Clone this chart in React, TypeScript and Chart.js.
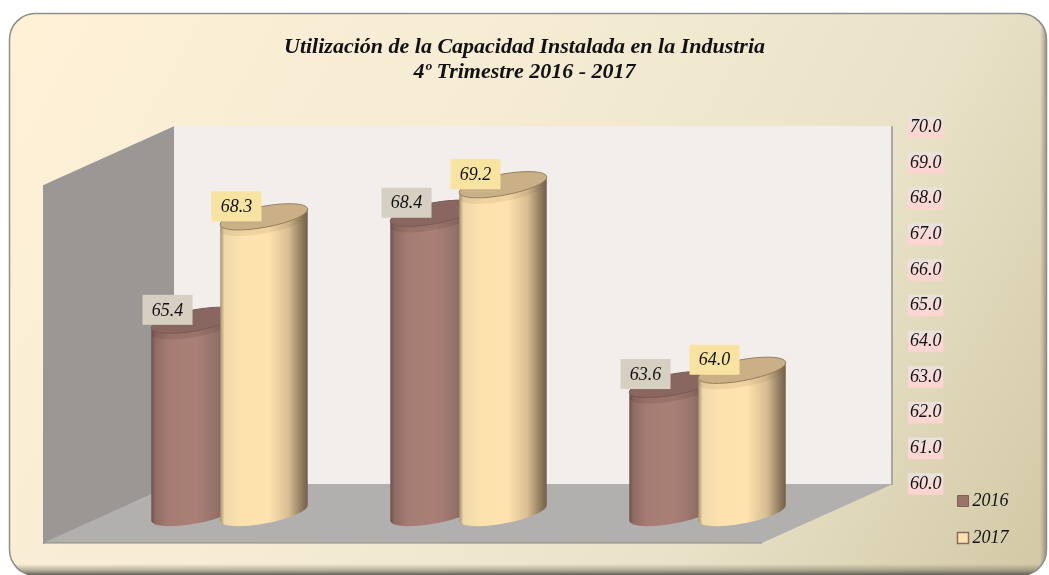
import React, { useEffect, useRef } from "react";
import { Chart, registerables } from "chart.js";

Chart.register(...registerables);

const categories = ["", "", ""];
const series2016 = [65.4, 68.4, 63.6];
const series2017 = [68.3, 69.2, 64.0];
const seriesNames = ["2016", "2017"];
const titleLines = [
  "Utilización de la Capacidad Instalada en la Industria",
  "4º Trimestre 2016 - 2017",
];
const axisMin = 60;
const axisMax = 70;

const FONT = '"Liberation Serif", serif';
const DEPTH_X = 131;
const DEPTH_Y = 59;

function panelPath(ctx: CanvasRenderingContext2D, x: number, y: number, w: number, h: number, r: number) {
  ctx.beginPath();
  ctx.roundRect(x, y, w, h, r);
}

const legendSizePlugin = {
  id: "legendSize",
  beforeInit(chart: any) {
    const fit = chart.legend.fit;
    chart.legend.fit = function () {
      fit.call(this);
      this.width = 105.5;
    };
  },
};

const backgroundPlugin = {
  id: "panelAndWalls",
  beforeDraw(chart: any) {
    const { ctx, chartArea: a, width, height } = chart;
    ctx.save();
    ctx.fillStyle = "#ffffff";
    ctx.fillRect(0, 0, width, height);

    const g = ctx.createLinearGradient(0, 0, width, height);
    g.addColorStop(0, "#FEF1D6");
    g.addColorStop(0.4, "#F6ECD4");
    g.addColorStop(0.72, "#E9E2C8");
    g.addColorStop(1, "#D2C8A5");
    panelPath(ctx, 9, 13, 1038, 563, 26);
    ctx.fillStyle = g;
    ctx.fill();

    // bottom and right bevels
    ctx.save();
    panelPath(ctx, 9, 13, 1038, 563, 26);
    ctx.clip();
    const b = ctx.createLinearGradient(0, 564, 0, 575);
    b.addColorStop(0, "rgba(110,105,90,0)");
    b.addColorStop(0.55, "rgba(110,105,90,0.45)");
    b.addColorStop(1, "rgba(90,88,82,0.95)");
    ctx.fillStyle = b;
    ctx.fillRect(0, 564, width, 11);
    const r = ctx.createLinearGradient(1040, 0, 1047, 0);
    r.addColorStop(0, "rgba(110,105,90,0)");
    r.addColorStop(1, "rgba(100,96,84,0.6)");
    ctx.fillStyle = r;
    ctx.fillRect(1040, 13, 8, 562);
    ctx.restore();

    // thin top/left border
    ctx.save();
    ctx.beginPath();
    ctx.rect(0, 0, width, 572);
    ctx.clip();
    panelPath(ctx, 9.5, 13.5, 1037, 562, 26);
    ctx.strokeStyle = "#8f8f8d";
    ctx.lineWidth = 1.5;
    ctx.stroke();
    ctx.restore();

    const L = a.left;
    const R = a.right;
    const T = a.top;
    const B = a.bottom;

    // back wall
    ctx.fillStyle = "#F2EEEB";
    ctx.fillRect(L, T - 1, R - L, B - T + 1);
    ctx.fillStyle = "#A9A7A4";
    ctx.fillRect(R, T - 1, 2, B - T + 2);

    // left wall
    ctx.fillStyle = "#9A9795";
    ctx.beginPath();
    ctx.moveTo(L, T - 1);
    ctx.lineTo(L - DEPTH_X, T - 1 + DEPTH_Y);
    ctx.lineTo(L - DEPTH_X, B + DEPTH_Y + 1);
    ctx.lineTo(L, B);
    ctx.closePath();
    ctx.fill();

    // floor
    ctx.fillStyle = "#B2B0AF";
    ctx.beginPath();
    ctx.moveTo(L, B);
    ctx.lineTo(R + 2, B);
    ctx.lineTo(R + 2 - DEPTH_X, B + DEPTH_Y);
    ctx.lineTo(L - DEPTH_X, B + DEPTH_Y);
    ctx.closePath();
    ctx.fill();
    ctx.strokeStyle = "#8B8A88";
    ctx.lineWidth = 1;
    ctx.beginPath();
    ctx.moveTo(L - DEPTH_X, B + DEPTH_Y);
    ctx.lineTo(R + 2 - DEPTH_X, B + DEPTH_Y);
    ctx.stroke();
    ctx.restore();
  },
};

const RX = 44.5;
const RY = 10.5;
const ROT = (-10.5 * Math.PI) / 180;

const skins = [
  {
    stops: [
      [0, "#6E534C"],
      [0.05, "#8F6C64"],
      [0.2, "#A57C73"],
      [0.5, "#AA8076"],
      [0.72, "#98736A"],
      [1, "#6E5348"],
    ],
    top: "#8A6660",
    edge: "#7A5A54",
    band: "rgba(80,50,45,0.16)",
    label: "#D5D0C2",
  },
  {
    stops: [
      [0, "#A8926E"],
      [0.05, "#F0D8AA"],
      [0.25, "#FDE2AE"],
      [0.55, "#FFE3AF"],
      [0.78, "#D8BE92"],
      [0.93, "#8F7B5E"],
      [1, "#70604A"],
    ],
    top: "#CBB087",
    edge: "#94805F",
    band: "rgba(130,100,60,0.12)",
    label: "#F8E3A0",
  },
];

const cylinderPlugin = {
  id: "cylinders",
  beforeDatasetDraw() {
    return false;
  },
  afterDatasetsDraw(chart: any) {
    const { ctx } = chart;
    const ox = -DEPTH_X / 2 + 1.5;
    const oy = DEPTH_Y / 2 - 0.5;
    const endX = RX * Math.cos(ROT);
    const endY = RX * Math.sin(ROT);

    chart.data.datasets.forEach((ds: any, di: number) => {
      const skin = skins[di];
      chart.getDatasetMeta(di).data.forEach((bar: any) => {
        const cx = bar.x + ox;
        const top = bar.y + oy;
        const bottom = bar.base + oy;
        const grad = ctx.createLinearGradient(cx - endX, 0, cx + endX, 0);
        skin.stops.forEach(([p, c]: any) => grad.addColorStop(p, c));
        ctx.save();
        ctx.filter = "blur(0.7px)";
        ctx.fillStyle = grad;
        ctx.beginPath();
        ctx.moveTo(cx - endX, top - endY);
        ctx.lineTo(cx - endX, bottom - endY);
        ctx.ellipse(cx, bottom, RX, RY, ROT, Math.PI, 0, true);
        ctx.lineTo(cx + endX, top + endY);
        ctx.closePath();
        ctx.fill();

        ctx.beginPath();
        ctx.ellipse(cx, top + 6, RX, RY, ROT, 0, Math.PI * 2);
        ctx.fillStyle = skin.band;
        ctx.fill();

        ctx.beginPath();
        ctx.ellipse(cx, top, RX, RY, ROT, 0, Math.PI * 2);
        ctx.fillStyle = skin.top;
        ctx.fill();
        ctx.strokeStyle = skin.edge;
        ctx.lineWidth = 1;
        ctx.stroke();
        ctx.restore();
      });
    });

    chart.data.datasets.forEach((ds: any, di: number) => {
      const skin = skins[di];
      chart.getDatasetMeta(di).data.forEach((bar: any, i: number) => {
        const cx = bar.x + ox - 27.5;
        const cy = bar.y + oy - 10.5;
        ctx.save();
        ctx.fillStyle = skin.label;
        ctx.fillRect(cx - 25, cy - 15, 50, 30);
        ctx.fillStyle = "#111";
        ctx.font = `italic 18px ${FONT}`;
        ctx.textAlign = "center";
        ctx.textBaseline = "middle";
        ctx.fillText(Number(ds.data[i]).toFixed(1), cx, cy + 1);
        ctx.restore();
      });
    });
  },
};

export default function App() {
  const ref = useRef<HTMLCanvasElement>(null);
  useEffect(() => {
    document.body.style.margin = "0";
    const chart = new Chart(ref.current as HTMLCanvasElement, {
      type: "bar",
      data: {
        labels: categories,
        datasets: [
          {
            label: seriesNames[0],
            data: series2016,
            base: axisMin,
            backgroundColor: "#9A736B",
            borderColor: "#7F6058",
            borderWidth: 1,
            yAxisID: "y",
          },
          {
            label: seriesNames[1],
            data: series2017,
            base: axisMin,
            backgroundColor: "#FFE3AF",
            borderColor: "#8A6A5C",
            borderWidth: 1.5,
            yAxisID: "y",
          },
        ],
      },
      options: {
        responsive: false,
        animation: false,
        maintainAspectRatio: false,
        layout: { padding: { top: 0, right: 0, bottom: 9, left: 0 } },
        datasets: { bar: { categoryPercentage: 0.577, barPercentage: 1.275 } },
        scales: {
          x: {
            display: true,
            grid: { display: false },
            border: { display: false },
            ticks: { display: false },
            afterFit(s: any) {
              s.height = 82;
            },
          },
          y: {
            position: "right",
            min: axisMin,
            max: axisMax,
            grid: { display: false, drawTicks: false },
            border: { display: false },
            afterFit(s: any) {
              s.width = 52.5;
            },
            ticks: {
              stepSize: 1,
              padding: 19,
              color: "#111",
              font: { family: FONT, style: "italic", size: 18 },
              callback: (v: any) => Number(v).toFixed(1),
              showLabelBackdrop: true,
              backdropPadding: { x: 2, y: 0 },
              backdropColor(c: any) {
                const g = c.chart.ctx.createLinearGradient(0, -11, 0, 11);
                g.addColorStop(0, "#E7E2DE");
                g.addColorStop(0.4, "#F7DCD9");
                g.addColorStop(1, "#FFD2CF");
                return g;
              },
            },
          },
          wall: {
            type: "linear",
            position: "left",
            display: true,
            grid: { display: false },
            border: { display: false },
            ticks: { display: false },
            afterFit(s: any) {
              s.width = 174;
            },
          },
        },
        plugins: {
          title: {
            display: true,
            text: titleLines,
            color: "#111",
            font: { family: FONT, style: "italic", weight: "bold", size: 22, lineHeight: 1.14 },
            padding: { top: 35, bottom: 42 },
          },
          legend: {
            display: true,
            position: "right",
            align: "end",
            labels: {
              color: "#111",
              font: { family: FONT, style: "italic", size: 18 },
              usePointStyle: true,
              pointStyle: "rect",
              boxWidth: 1,
              boxHeight: 11,
              padding: 19,
            },
          },
          tooltip: { enabled: false },
        },
      } as any,
      plugins: [legendSizePlugin, backgroundPlugin, cylinderPlugin] as any,
    });
    return () => chart.destroy();
  }, []);
  return <canvas ref={ref} width={1049} height={575} style={{ display: "block" }} />;
}
